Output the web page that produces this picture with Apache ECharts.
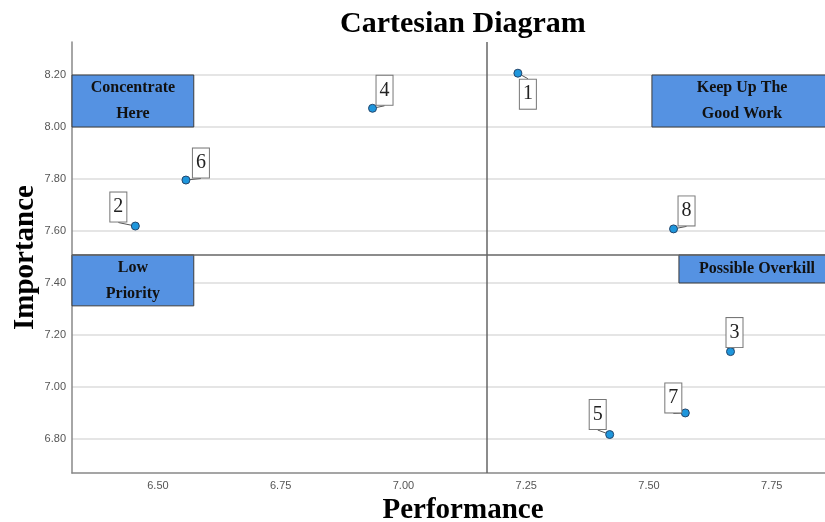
<!DOCTYPE html>
<html style="height: 100%">
<head>
	<meta charset="utf-8">
</head>
<body style="height: 100%; margin: 0">
	<div id="container" style="width: 825px; height: 522px;"></div>
	<script type="text/javascript" src="https://cdn.jsdelivr.net/npm/echarts@6/dist/echarts.min.js"></script>
	<script type="text/javascript">
		// attribute number, performance (x) and importance (y)
		let ids = ['1', '2', '3', '4', '5', '6', '7', '8'];
		let performance = [7.233, 6.454, 7.666, 6.937, 7.420, 6.557, 7.574, 7.550];
		let importance = [8.207, 7.619, 7.136, 8.072, 6.817, 7.796, 6.900, 7.608];
		// means used for the quadrant split
		let meanPerformance = 7.174;
		let meanImportance = 7.515;
		let xTicks = [6.50, 6.75, 7.00, 7.25, 7.50, 7.75];
		let yTicks = [6.80, 7.00, 7.20, 7.40, 7.60, 7.80, 8.00, 8.20];

		// label box offset from each point, pixels
		let labelOffsets = [[10, 21], [-17, -19], [4, -19], [12, -18], [-12, -20], [15, -17], [-12, -15], [13, -18]];

		let dom = document.getElementById("container");
		let myChart = echarts.init(dom);

		let points = [];
		for (let i = 0; i < ids.length; i++) {
			points.push({ value: [performance[i], importance[i]], name: ids[i] });
		}

		let serif = "'Liberation Serif', 'Times New Roman', serif";
		let boxLabel = {
			show: true,
			position: 'inside',
			color: '#111',
			fontFamily: serif,
			fontWeight: 'bold',
			fontSize: 16,
			lineHeight: 26
		};

		let option = {
			animation: false,
			title: {
				text: 'Cartesian Diagram',
				left: 335,
				top: 4,
				textStyle: { fontFamily: serif, fontWeight: 'bold', fontSize: 30, color: '#000' }
			},
			grid: { left: 72, right: -29, top: 42, bottom: 49, containLabel: false, outerBoundsMode: 'none' },
			xAxis: {
				type: 'value',
				min: 6.325,
				max: 7.9175,
				name: 'Performance',
				nameLocation: 'middle',
				nameGap: 19,
				nameTextStyle: { fontFamily: serif, fontWeight: 'bold', fontSize: 29, color: '#000' },
				axisLine: { show: true, onZero: false, lineStyle: { color: '#888', width: 1.5 } },
				axisTick: { show: false, customValues: xTicks },
				axisLabel: {
					customValues: xTicks,
					margin: 7,
					color: '#555',
					fontFamily: 'Liberation Sans, Arial',
					fontSize: 11,
					formatter: function (v) { return v.toFixed(2); }
				},
				splitLine: { show: false }
			},
			yAxis: {
				type: 'value',
				min: 6.669,
				max: 8.327,
				name: 'Importance',
				nameLocation: 'middle',
				nameGap: 32,
				nameMoveOverlap: false,
				nameTextStyle: { fontFamily: serif, fontWeight: 'bold', fontSize: 29, color: '#000' },
				axisLine: { show: true, lineStyle: { color: '#888', width: 1.5 } },
				axisTick: { show: false, customValues: yTicks },
				axisLabel: {
					customValues: yTicks,
					margin: 6,
					color: '#555',
					fontFamily: 'Liberation Sans, Arial',
					fontSize: 11,
					formatter: function (v) { return v.toFixed(2); }
				},
				splitLine: { show: true, lineStyle: { color: '#dcdcdc', width: 1.5 } }
			},
			series: [
				{
					type: 'scatter',
					data: points,
					symbol: 'circle',
					symbolSize: 8,
					itemStyle: { color: '#1e96dc', borderColor: '#23456b', borderWidth: 1, opacity: 1 },
					z: 5,
					label: {
						show: true,
						position: 'inside',
						formatter: '{b}',
						fontFamily: serif,
						fontSize: 20,
						lineHeight: 22,
						color: '#222',
						backgroundColor: '#fff',
						borderColor: '#777',
						borderWidth: 1,
						padding: [4, 3, 3, 3]
					},
					labelLine: { show: true, lineStyle: { color: '#555', width: 1 } },
					labelLayout: function (params) {
						let o = labelOffsets[params.dataIndex];
						return { dx: o[0], dy: o[1] };
					},
					markLine: {
						silent: true,
						symbol: 'none',
						label: { show: false },
						lineStyle: { color: '#666', width: 1.5, type: 'solid' },
						data: [{ xAxis: meanPerformance }, { yAxis: meanImportance }]
					},
					markArea: {
						silent: true,
						itemStyle: { color: '#5592e2', borderColor: '#3c3c3c', borderWidth: 1, opacity: 1 },
						label: boxLabel,
						data: [
							[{ name: 'Concentrate\nHere', coord: [6.325, 8.20] }, { coord: [6.573, 8.00] }],
							[{ name: 'Keep Up The\nGood Work', coord: [7.506, 8.20] }, { coord: [7.873, 8.00] }],
							[{ name: 'Low\nPriority', coord: [6.325, 7.508] }, { coord: [6.573, 7.312] }],
							[{ name: 'Possible Overkill', coord: [7.561, 7.508] }, { coord: [7.879, 7.40] }]
						]
					}
				}
			]
		};

		if (option && typeof option === "object") {
			myChart.setOption(option, true);
		}
	</script>
</body>
</html>
